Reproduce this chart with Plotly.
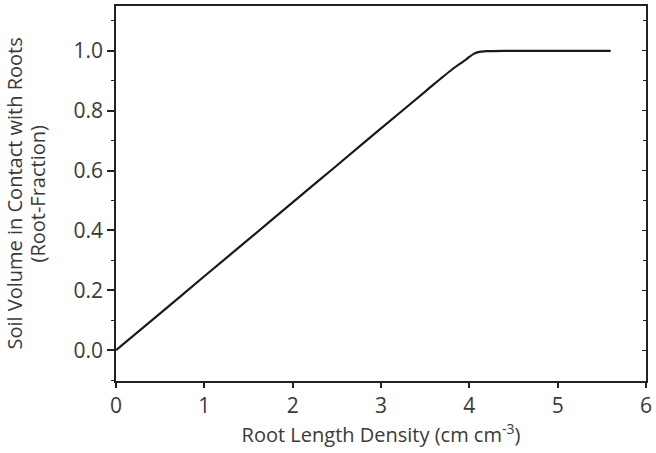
import plotly.graph_objects as go

root_length_density = [0.0, 0.5, 1.0, 1.5, 2.0, 2.5, 3.0, 3.5, 3.6, 3.7, 3.8, 3.9, 3.95, 4.0, 4.05, 4.1, 4.2, 4.4, 5.0, 5.6]
root_fraction = [0.0, 0.123, 0.247, 0.370, 0.494, 0.617, 0.741, 0.864, 0.889, 0.913, 0.937, 0.958, 0.968, 0.980, 0.990, 0.996, 0.999, 1.0, 1.0, 1.0]

x_ticks = [0, 1, 2, 3, 4, 5, 6]
y_ticks = [0.0, 0.2, 0.4, 0.6, 0.8, 1.0]
y_title_lines = ["Soil Volume in Contact with Roots", "(Root-Fraction)"]

FONT = "Open Sans"
TXT = "#3a3a3a"
AX = "#222222"
FS = 21

fig = go.Figure()
fig.add_trace(go.Scatter(
    x=root_length_density, y=root_fraction, mode="lines",
    line=dict(color="#1a1a1a", width=2.2, shape="spline", smoothing=0.4),
    showlegend=False, hoverinfo="skip"))
# invisible trace for the right-hand axis
fig.add_trace(go.Scatter(x=[0], y=[0], yaxis="y2", mode="markers",
                         marker=dict(opacity=0), showlegend=False, hoverinfo="skip"))

for line, shift in zip(y_title_lines, [-102, -79]):
    fig.add_annotation(text=line, xref="paper", yref="paper", x=0, y=0.5,
                       xanchor="center", yanchor="middle", xshift=shift,
                       textangle=-90, showarrow=False,
                       font=dict(family=FONT, size=FS - 1, color=TXT))

fig.update_layout(
    width=656, height=453,
    margin=dict(l=116, r=4, t=6, b=72),
    paper_bgcolor="white", plot_bgcolor="white",
    font=dict(family=FONT, size=FS, color=TXT),
    xaxis=dict(
        range=[0, 6], tickvals=x_ticks, ticktext=[str(v) for v in x_ticks],
        showline=True, linecolor=AX, linewidth=1.5, mirror=True,
        ticks="outside", ticklen=5, tickwidth=1.5, tickcolor=AX,
        showgrid=False, zeroline=False, ticklabeloverflow="allow",
        tickfont=dict(size=FS, color=TXT),
        title=dict(text="Root Length Density (cm cm<sup>-3</sup>)", font=dict(size=FS - 1, color=TXT), standoff=4),
    ),
    yaxis=dict(
        range=[-0.103, 1.15], tickvals=y_ticks, tickformat=".1f",
        showline=True, linecolor=AX, linewidth=1.5, mirror=True,
        ticks="outside", ticklen=7, tickwidth=1.5, tickcolor=AX,
        minor=dict(dtick=0.1, tick0=0, ticks="outside", ticklen=3.5, tickwidth=1.2, tickcolor=AX, showgrid=False),
        showgrid=False, zeroline=False,
        tickfont=dict(size=FS, color=TXT),
    ),
    yaxis2=dict(
        range=[-0.103, 1.15], overlaying="y", side="right", tickvals=y_ticks,
        showticklabels=False, showline=False, showgrid=False, zeroline=False,
        ticks="inside", ticklen=4, tickwidth=1.2, tickcolor=AX,
        minor=dict(dtick=0.1, tick0=0, ticks="inside", ticklen=3, tickwidth=1.0, tickcolor=AX, showgrid=False),
    ),
)

fig.write_html("out.html")
